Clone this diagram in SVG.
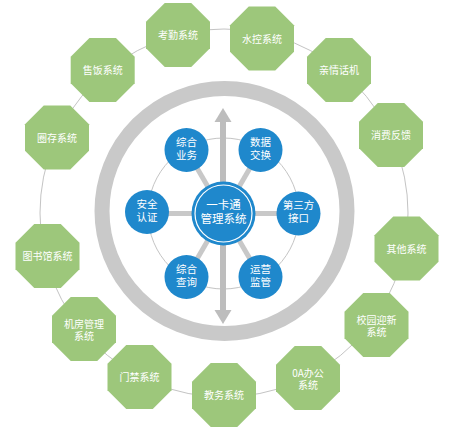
<svg xmlns="http://www.w3.org/2000/svg" xmlns:xlink="http://www.w3.org/1999/xlink" width="455" height="427" viewBox="0 0 455 427">
<style>
.lbl{font-family:"Noto Sans CJK SC","Noto Sans",sans-serif;fill:#ffffff;text-anchor:middle}
.oct{fill:#9dc77b}
.o{font-size:10px}
.s{font-size:10.5px}
.c{font-size:11.5px}
.sat{fill:#1f88cc}
.thin{fill:none;stroke:#c4c4c4;stroke-width:1}
.spoke{stroke:#c8c8c8;stroke-width:5;fill:none}
</style>
<defs>
<polygon id="octShape" points="-13.25,-32 13.25,-32 32,-13.25 32,13.25 13.25,32 -13.25,32 -32,13.25 -32,-13.25"/>
</defs>
<rect width="455" height="427" fill="#ffffff"/>
<g id="connectors">
<circle class="thin" cx="224" cy="213" r="184"/>
<line class="spoke" x1="223.5" y1="213.5" x2="148.5" y2="213.5"/>
<line class="spoke" x1="223.5" y1="213.5" x2="298.5" y2="213.5"/>
<line class="spoke" x1="223.5" y1="213.5" x2="186.5" y2="150"/>
<line class="spoke" x1="223.5" y1="213.5" x2="260.5" y2="150"/>
<line class="spoke" x1="223.5" y1="213.5" x2="186.5" y2="277"/>
<line class="spoke" x1="223.5" y1="213.5" x2="260.5" y2="277"/>
<circle class="thin" cx="223.5" cy="213.5" r="75.5"/>
</g>
<g id="ring">
<circle cx="224.5" cy="211" r="122.5" fill="none" stroke="#c9c9c9" stroke-width="15"/>
</g>
<g id="arrow" fill="#bdbdbd">
<rect x="220" y="120" width="6" height="192"/>
<polygon points="223,108 231.5,122 214.5,122"/>
<polygon points="223,324 231.5,310 214.5,310"/>
</g>
<g id="sat-zonghe-yewu"><circle class="sat" cx="186.5" cy="150" r="22"/><text class="lbl s" x="186.5" y="145.5">综合</text><text class="lbl s" x="186.5" y="158.5">业务</text></g>
<g id="sat-shuju-jiaohuan"><circle class="sat" cx="260.5" cy="150" r="22"/><text class="lbl s" x="260.5" y="145.5">数据</text><text class="lbl s" x="260.5" y="158.5">交换</text></g>
<g id="sat-anquan-renzheng"><circle class="sat" cx="147" cy="212" r="22"/><text class="lbl s" x="147" y="207.5">安全</text><text class="lbl s" x="147" y="220.5">认证</text></g>
<g id="sat-disanfang-jiekou"><circle class="sat" cx="298.5" cy="213.5" r="22"/><text class="lbl s" x="298.5" y="209">第三方</text><text class="lbl s" x="298.5" y="222">接口</text></g>
<g id="sat-zonghe-chaxun"><circle class="sat" cx="186.5" cy="277" r="22"/><text class="lbl s" x="186.5" y="272.5">综合</text><text class="lbl s" x="186.5" y="285.5">查询</text></g>
<g id="sat-yunying-jianguan"><circle class="sat" cx="260.5" cy="277" r="22"/><text class="lbl s" x="260.5" y="272.5">运营</text><text class="lbl s" x="260.5" y="285.5">监管</text></g>
<g id="center">
<circle class="sat" cx="223.5" cy="213.5" r="32"/>
<circle cx="223.5" cy="213.5" r="28.5" fill="none" stroke="#ffffff" stroke-width="1.2"/>
<text class="lbl c" x="223.5" y="208.5">一卡通</text>
<text class="lbl c" x="223.5" y="222.5">管理系统</text>
</g>
<g id="n-kaoqin"><use xlink:href="#octShape" class="oct" x="178" y="35"/><text class="lbl o" x="178" y="39">考勤系统</text></g>
<g id="n-shuikong"><use xlink:href="#octShape" class="oct" x="262" y="38.5"/><text class="lbl o" x="262" y="42.5">水控系统</text></g>
<g id="n-qinqing"><use xlink:href="#octShape" class="oct" x="339" y="70"/><text class="lbl o" x="339" y="74">亲情话机</text></g>
<g id="n-xiaofei"><use xlink:href="#octShape" class="oct" x="391" y="135"/><text class="lbl o" x="391" y="139">消费反馈</text></g>
<g id="n-qita"><use xlink:href="#octShape" class="oct" x="406.5" y="248.5"/><text class="lbl o" x="406.5" y="252.5">其他系统</text></g>
<g id="n-yingxin"><use xlink:href="#octShape" class="oct" x="376.5" y="325"/><text class="lbl o" x="376.5" y="323.5">校园迎新</text><text class="lbl o" x="376.5" y="336">系统</text></g>
<g id="n-oa"><use xlink:href="#octShape" class="oct" x="308" y="378"/><text class="lbl o" x="308" y="376.5">0A办公</text><text class="lbl o" x="308" y="389">系统</text></g>
<g id="n-jiaowu"><use xlink:href="#octShape" class="oct" x="224" y="395"/><text class="lbl o" x="224" y="399">教务系统</text></g>
<g id="n-menjin"><use xlink:href="#octShape" class="oct" x="139.5" y="377"/><text class="lbl o" x="139.5" y="381">门禁系统</text></g>
<g id="n-jifang"><use xlink:href="#octShape" class="oct" x="84" y="329"/><text class="lbl o" x="84" y="327.5">机房管理</text><text class="lbl o" x="84" y="340">系统</text></g>
<g id="n-tushuguan"><use xlink:href="#octShape" class="oct" x="47.5" y="256"/><text class="lbl o" x="47.5" y="260">图书馆系统</text></g>
<g id="n-quancun"><use xlink:href="#octShape" class="oct" x="57" y="137.5"/><text class="lbl o" x="57" y="141.5">圈存系统</text></g>
<g id="n-shoufan"><use xlink:href="#octShape" class="oct" x="102.7" y="70"/><text class="lbl o" x="102.7" y="74">售饭系统</text></g>
</svg>
